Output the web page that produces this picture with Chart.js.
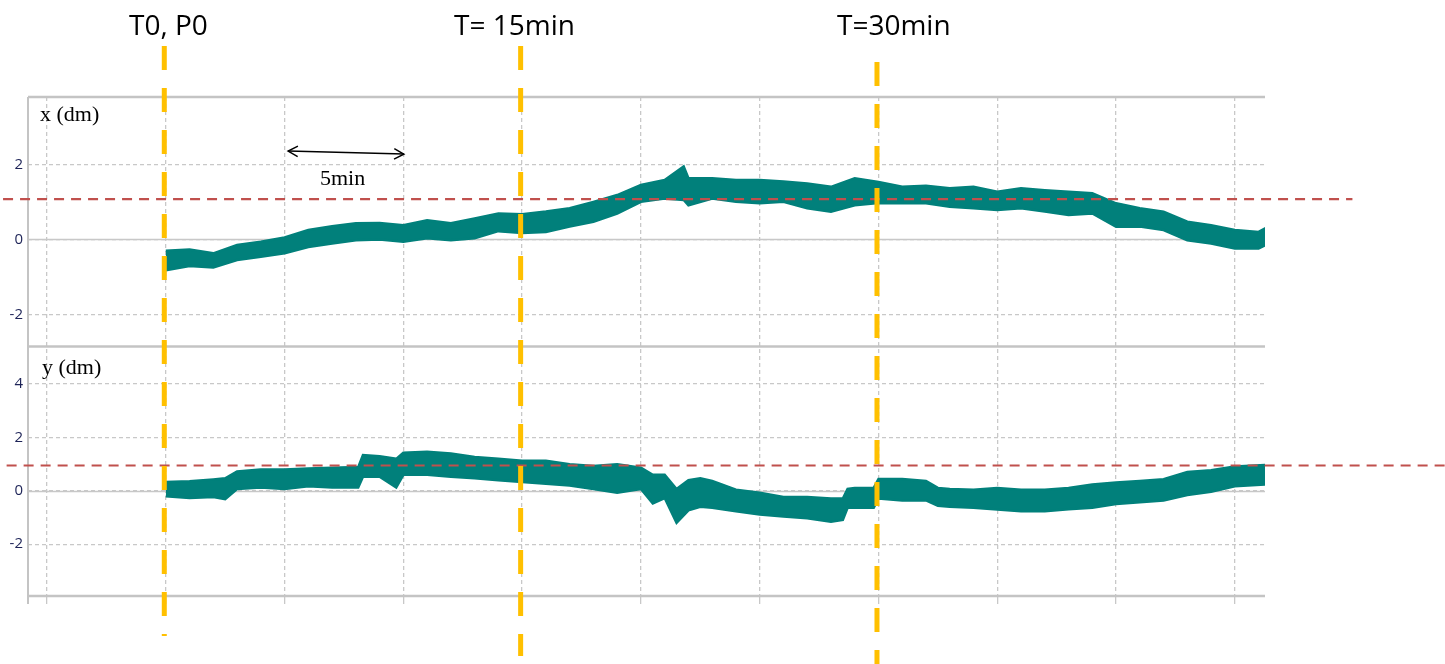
<!DOCTYPE html>
<html>
<head>
<meta charset="utf-8">
<script src="https://cdn.jsdelivr.net/npm/chart.js@4.4.1/dist/chart.umd.min.js"></script>
<style>
  html, body { margin: 0; padding: 0; background: #fff; }
  #wrap { position: relative; width: 1445px; height: 664px; overflow: hidden; }
  #chart { position: absolute; left: 0; top: 0; }
  .mark { position: absolute; font-family: "Open Sans", sans-serif; font-size: 28px; line-height: 1; color: #000; white-space: nowrap; }
  .unit { position: absolute; font-family: "Liberation Serif", "Times New Roman", serif; font-size: 22px; line-height: 1; color: #000; white-space: nowrap; }
</style>
</head>
<body>
<div id="wrap">
  <canvas id="chart" width="1445" height="664"></canvas>
  <div class="mark" style="left:129px; top:10px">T0, P0</div>
  <div class="mark" style="left:454px; top:10px">T= 15min</div>
  <div class="mark" style="left:837px; top:10px">T=30min</div>
  <div class="unit" style="left:40px; top:103px">x (dm)</div>
  <div class="unit" style="left:42px; top:356px">y (dm)</div>
  <div class="unit" style="left:320px; top:167px">5min</div>
</div>
<script>
/* ---- data (time in minutes from T0, values in dm) ---- */

// x (dm) panel: upper / lower edge of the trace
const TIME_X = [0, 1, 2, 3, 4, 5, 6, 7, 8, 9, 10, 11, 12, 13, 14, 15, 16, 17, 18, 19, 20, 21, 21.8, 22,
  23, 24, 25, 26, 27, 28, 29, 30, 31, 32, 33, 34, 35, 36, 37, 38, 39, 40, 41, 42, 43, 44, 45, 46, 46.3];
const X_UPPER = [-0.30, -0.27, -0.37, -0.15, -0.06, 0.05, 0.25, 0.35, 0.43, 0.44, 0.38, 0.51, 0.43, 0.56, 0.69, 0.67,
  0.74, 0.83, 1.00, 1.18, 1.45, 1.58, 1.94, 1.63, 1.63, 1.58, 1.58, 1.54, 1.49, 1.40, 1.63, 1.53, 1.40, 1.43,
  1.36, 1.40, 1.27, 1.36, 1.31, 1.27, 1.23, 0.96, 0.83, 0.74, 0.47, 0.38, 0.25, 0.20, 0.30];
const X_LOWER = [-0.82, -0.71, -0.75, -0.55, -0.46, -0.37, -0.20, -0.11, -0.02, 0.00, -0.06, 0.03, -0.02, 0.03, 0.22, 0.17,
  0.20, 0.34, 0.47, 0.69, 1.00, 1.09, 1.05, 0.91, 1.09, 1.00, 0.96, 1.00, 0.83, 0.74, 0.91, 0.97, 0.96, 0.96,
  0.87, 0.83, 0.78, 0.83, 0.74, 0.65, 0.69, 0.34, 0.34, 0.25, -0.02, -0.11, -0.24, -0.24, -0.15];

// y (dm) panel
const TIME_Y = [0, 1, 2, 2.5, 3, 4, 5, 6, 7, 8.1, 8.3, 9, 9.7, 10, 11, 12, 13, 14, 15, 16, 17, 18, 19, 20,
  20.5, 21, 21.5, 22, 22.5, 23, 24, 25, 26, 27, 28, 28.5, 28.7, 29, 29.8, 30, 31, 32, 32.5, 33, 34, 35, 36,
  37, 38, 39, 40, 41, 42, 43, 44, 45, 46.3];
const Y_UPPER = [0.33, 0.36, 0.43, 0.47, 0.73, 0.80, 0.80, 0.84, 0.87, 0.89, 1.34, 1.30, 1.20, 1.43, 1.47, 1.40,
  1.27, 1.20, 1.13, 1.13, 1.00, 0.93, 1.00, 0.87, 0.60, 0.60, 0.07, 0.40, 0.47, 0.37, 0.04, -0.07, -0.23,
  -0.23, -0.29, -0.29, 0.07, 0.11, 0.11, 0.44, 0.44, 0.37, 0.11, 0.07, 0.04, 0.11, 0.04, 0.04, 0.11, 0.24,
  0.31, 0.37, 0.44, 0.71, 0.77, 0.91, 0.97];
const Y_LOWER = [-0.20, -0.27, -0.23, -0.31, 0.07, 0.13, 0.07, 0.17, 0.13, 0.13, 0.53, 0.53, 0.13, 0.60, 0.60, 0.53,
  0.47, 0.40, 0.33, 0.27, 0.20, 0.07, -0.07, 0.07, -0.47, -0.27, -1.20, -0.73, -0.60, -0.63, -0.76, -0.89,
  -0.96, -1.03, -1.16, -1.09, -0.63, -0.63, -0.63, -0.29, -0.36, -0.36, -0.56, -0.60, -0.63, -0.70, -0.76,
  -0.76, -0.69, -0.63, -0.49, -0.43, -0.36, -0.16, -0.03, 0.17, 0.24];

// axes
const X_RANGE = [-5.8, 46.27];
const X_GRID = [-5, 0, 5, 10, 15, 20, 25, 30, 35, 40, 45];
const TOP_RANGE = [-2.85, 3.79];
const TOP_TICKS = [-2, 0, 2];
const BOT_RANGE = [-3.94, 5.41];
const BOT_TICKS = [-2, 0, 2, 4];

// reference levels (red dashed) and their time extent
const REF_LEVELS = [1.07, 0.95];
const REF_SPANS = [[-6.85, 49.95], [-6.7, 54]];
// event markers (orange dashed)
const EVENT_TIMES = [0, 15, 30];
// 5 min scale arrow
const ARROW_T = [5.15, 10.02];
const ARROW_V = [2.35, 2.27];

const TEAL = '#01807b';
const GRID = '#c8c8c8';

const pts = (t, v) => t.map((x, i) => ({ x: x, y: v[i] }));

function band(t, v, axis, fill) {
  return {
    data: pts(t, v),
    yAxisID: axis,
    borderColor: TEAL,
    backgroundColor: TEAL,
    borderWidth: 2.5,
    pointRadius: 0,
    tension: 0,
    fill: fill
  };
}

const overlay = {
  id: 'overlay',
  beforeDatasetsDraw(chart) {
    const { ctx, chartArea: a, scales } = chart;
    ctx.save();
    ctx.strokeStyle = GRID;
    ctx.lineWidth = 1.5;
    ['yTop', 'yBot'].forEach(id => {
      const y = Math.round(scales[id].getPixelForValue(0)) + 0.5;
      ctx.beginPath(); ctx.moveTo(a.left, y); ctx.lineTo(a.right, y); ctx.stroke();
    });
    ctx.restore();
  },
  afterDraw(chart) {
    const { ctx, chartArea: a, scales } = chart;
    const sx = scales.x;
    ctx.save();

    // panel frames
    ctx.strokeStyle = '#c4c4c4';
    ctx.lineWidth = 2.5;
    [scales.yTop.top, scales.yTop.bottom, scales.yBot.bottom].forEach(y => {
      ctx.beginPath(); ctx.moveTo(a.left, y); ctx.lineTo(a.right, y); ctx.stroke();
    });
    ctx.lineWidth = 2;
    ctx.beginPath(); ctx.moveTo(a.left, a.top); ctx.lineTo(a.left, a.bottom + 8); ctx.stroke();

    // red reference lines
    ctx.strokeStyle = '#c0504d';
    ctx.lineWidth = 2.2;
    ctx.setLineDash([10, 7]);
    ['yTop', 'yBot'].forEach((id, i) => {
      const y = scales[id].getPixelForValue(REF_LEVELS[i]);
      ctx.beginPath();
      ctx.moveTo(sx.getPixelForValue(REF_SPANS[i][0]), y);
      ctx.lineTo(sx.getPixelForValue(REF_SPANS[i][1]), y);
      ctx.stroke();
    });

    // orange event lines
    const tops = [a.top - 51, a.top - 51, a.top - 35];
    const bottoms = [a.bottom + 40, a.bottom + 60, a.bottom + 68];
    ctx.strokeStyle = '#ffc000';
    ctx.lineWidth = 5;
    ctx.setLineDash([24, 18]);
    EVENT_TIMES.forEach((t, i) => {
      const x = sx.getPixelForValue(t) - 1.5;
      ctx.beginPath(); ctx.moveTo(x, tops[i]); ctx.lineTo(x, bottoms[i]); ctx.stroke();
    });

    // 5 min arrow
    ctx.setLineDash([]);
    ctx.strokeStyle = '#000';
    ctx.lineWidth = 1.5;
    const x1 = sx.getPixelForValue(ARROW_T[0]), y1 = scales.yTop.getPixelForValue(ARROW_V[0]);
    const x2 = sx.getPixelForValue(ARROW_T[1]), y2 = scales.yTop.getPixelForValue(ARROW_V[1]);
    const ang = Math.atan2(y2 - y1, x2 - x1);
    ctx.beginPath(); ctx.moveTo(x1, y1); ctx.lineTo(x2, y2); ctx.stroke();
    [[x1, y1, ang], [x2, y2, ang + Math.PI]].forEach(([x, y, d]) => {
      ctx.beginPath();
      ctx.moveTo(x + 11 * Math.cos(d - 0.5), y + 11 * Math.sin(d - 0.5));
      ctx.lineTo(x, y);
      ctx.lineTo(x + 11 * Math.cos(d + 0.5), y + 11 * Math.sin(d + 0.5));
      ctx.stroke();
    });
    ctx.restore();
  }
};

const setTicks = list => axis => { axis.ticks = list.map(v => ({ value: v })); };

function yAxis(range, ticks, weight) {
  return {
    type: 'linear',
    position: 'left',
    stack: 'panels',
    stackWeight: 1,
    weight: weight,
    min: range[0],
    max: range[1],
    afterBuildTicks: setTicks(ticks),
    afterFit: axis => { axis.width = 28; },
    ticks: { color: '#1d2357', font: { family: 'Open Sans', size: 15 }, padding: 5 },
    grid: { color: GRID, lineWidth: 1.3, drawTicks: false },
    border: { display: false, dash: [4, 3] }
  };
}

new Chart(document.getElementById('chart'), {
  type: 'line',
  data: {
    datasets: [
      band(TIME_X, X_UPPER, 'yTop', false),
      band(TIME_X, X_LOWER, 'yTop', '-1'),
      band(TIME_Y, Y_UPPER, 'yBot', false),
      band(TIME_Y, Y_LOWER, 'yBot', '-1')
    ]
  },
  options: {
    responsive: false,
    animation: false,
    layout: { padding: { left: 0, top: 97, right: 180, bottom: 60 } },
    scales: {
      x: {
        type: 'linear',
        min: X_RANGE[0],
        max: X_RANGE[1],
        afterBuildTicks: setTicks(X_GRID),
        afterFit: axis => { axis.height = 8; },
        ticks: { display: false },
        grid: { color: GRID, lineWidth: 1.3, tickLength: 8, tickColor: GRID },
        border: { display: false, dash: [4, 3] }
      },
      yTop: yAxis(TOP_RANGE, TOP_TICKS, 2),
      yBot: yAxis(BOT_RANGE, BOT_TICKS, 1)
    },
    plugins: {
      legend: { display: false },
      tooltip: { enabled: false }
    }
  },
  plugins: [overlay]
});
</script>
</body>
</html>
